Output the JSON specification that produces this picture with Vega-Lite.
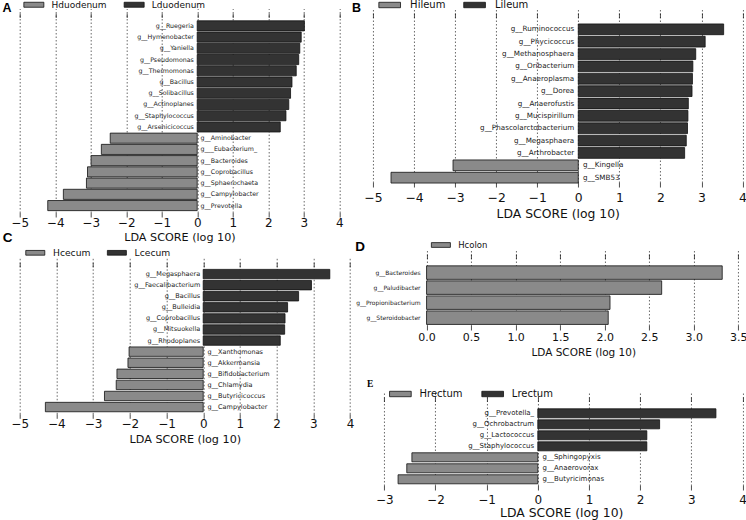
{
  "$schema": "https://vega.github.io/schema/vega-lite/v6.json",
  "padding": {"left": 1.7, "top": 0, "right": 0, "bottom": 0},
  "autosize": {"type": "pad"},
  "background": "white",
  "config": {
    "view": {"stroke": null},
    "font": "DejaVu Sans",
    "axis": {
      "domain": false, "grid": true, "gridDash": [1.5, 2], "gridColor": "#444", "gridWidth": 0.8,
      "ticks": true, "tickSize": 4.5, "tickColor": "#222", "tickWidth": 0.8, "offset": -4.5,
      "labelFont": "DejaVu Sans", "labelFontSize": 12, "labelColor": "#111", "labelBaseline": "middle",
      "labelFlush": false, "labelOverlap": false, "tickCount": 20,
      "titleFont": "DejaVu Sans", "titleFontWeight": "normal", "titleColor": "#111", "titleBaseline": "alphabetic"
    },
    "legend": {
      "orient": "none", "direction": "horizontal", "padding": 0, "title": null,
      "symbolType": "M-4,-1H4V1H-4Z", "symbolStrokeColor": "#111", "symbolStrokeWidth": 0.8,
      "symbolOpacity": 1, "labelFont": "DejaVu Sans", "labelColor": "#111"
    },
    "title": {"frame": "group", "anchor": "start", "baseline": "alphabetic", "color": "#000", "fontWeight": "bold", "font": "Liberation Sans"}
  },
  "datasets": {
    "dA": [
      {"g": "g__Ruegeria", "v": 3.02, "grp": "Lduodenum"},
      {"g": "g__Hymenobacter", "v": 2.93, "grp": "Lduodenum"},
      {"g": "g__Yaniella", "v": 2.89, "grp": "Lduodenum"},
      {"g": "g__Pseudomonas", "v": 2.86, "grp": "Lduodenum"},
      {"g": "g__Thermomonas", "v": 2.79, "grp": "Lduodenum"},
      {"g": "g__Bacillus", "v": 2.67, "grp": "Lduodenum"},
      {"g": "g__Solibacillus", "v": 2.63, "grp": "Lduodenum"},
      {"g": "g__Actinoplanes", "v": 2.58, "grp": "Lduodenum"},
      {"g": "g__Staphylococcus", "v": 2.5, "grp": "Lduodenum"},
      {"g": "g__Arsenicicoccus", "v": 2.34, "grp": "Lduodenum"},
      {"g": "g__Aminobacter", "v": -2.45, "grp": "Hduodenum"},
      {"g": "g___Eubacterium_", "v": -2.7, "grp": "Hduodenum"},
      {"g": "g__Bacteroides", "v": -2.99, "grp": "Hduodenum"},
      {"g": "g__Coprobacillus", "v": -3.09, "grp": "Hduodenum"},
      {"g": "g__Sphaerochaeta", "v": -3.12, "grp": "Hduodenum"},
      {"g": "g__Campylobacter", "v": -3.77, "grp": "Hduodenum"},
      {"g": "g__Prevotella", "v": -4.21, "grp": "Hduodenum"}
    ],
    "dB": [
      {"g": "g__Ruminococcus", "v": 3.54, "grp": "Lileum"},
      {"g": "g__Phycicoccus", "v": 3.09, "grp": "Lileum"},
      {"g": "g__Methanosphaera", "v": 2.86, "grp": "Lileum"},
      {"g": "g__Oribacterium", "v": 2.79, "grp": "Lileum"},
      {"g": "g__Anaeroplasma", "v": 2.78, "grp": "Lileum"},
      {"g": "g__Dorea", "v": 2.77, "grp": "Lileum"},
      {"g": "g__Anaerofustis", "v": 2.68, "grp": "Lileum"},
      {"g": "g__Mucispirillum", "v": 2.67, "grp": "Lileum"},
      {"g": "g__Phascolarctobacterium", "v": 2.66, "grp": "Lileum"},
      {"g": "g__Megasphaera", "v": 2.63, "grp": "Lileum"},
      {"g": "g__Arthrobacter", "v": 2.59, "grp": "Lileum"},
      {"g": "g__Kingella", "v": -3.05, "grp": "Hileum"},
      {"g": "g__SMB53", "v": -4.56, "grp": "Hileum"}
    ],
    "dC": [
      {"g": "g__Megasphaera", "v": 3.45, "grp": "Lcecum"},
      {"g": "g__Faecalibacterium", "v": 2.95, "grp": "Lcecum"},
      {"g": "g__Bacillus", "v": 2.6, "grp": "Lcecum"},
      {"g": "g__Bulleidia", "v": 2.3, "grp": "Lcecum"},
      {"g": "g__Coprobacillus", "v": 2.23, "grp": "Lcecum"},
      {"g": "g__Mitsuokella", "v": 2.22, "grp": "Lcecum"},
      {"g": "g__Rhodoplanes", "v": 2.1, "grp": "Lcecum"},
      {"g": "g__Xanthomonas", "v": -2.02, "grp": "Hcecum"},
      {"g": "g__Akkermansia", "v": -2.05, "grp": "Hcecum"},
      {"g": "g__Bifidobacterium", "v": -2.35, "grp": "Hcecum"},
      {"g": "g__Chlamydia", "v": -2.37, "grp": "Hcecum"},
      {"g": "g__Butyricicoccus", "v": -2.69, "grp": "Hcecum"},
      {"g": "g__Campylobacter", "v": -4.3, "grp": "Hcecum"}
    ],
    "dD": [
      {"g": "g__Bacteroides", "v": 3.32, "grp": "Hcolon"},
      {"g": "g__Paludibacter", "v": 2.64, "grp": "Hcolon"},
      {"g": "g__Propionibacterium", "v": 2.06, "grp": "Hcolon"},
      {"g": "g__Steroidobacter", "v": 2.04, "grp": "Hcolon"}
    ],
    "dE": [
      {"g": "g__Prevotella_", "v": 3.48, "grp": "Lrectum"},
      {"g": "g__Ochrobactrum", "v": 2.38, "grp": "Lrectum"},
      {"g": "g__Lactococcus", "v": 2.13, "grp": "Lrectum"},
      {"g": "g__Staphylococcus", "v": 2.13, "grp": "Lrectum"},
      {"g": "g__Sphingopyxis", "v": -2.46, "grp": "Hrectum"},
      {"g": "g__Anaerovorax", "v": -2.56, "grp": "Hrectum"},
      {"g": "g__Butyricimonas", "v": -2.73, "grp": "Hrectum"}
    ]
  },
  "bounds": "full",
  "spacing": -2.75,
  "resolve": {"scale": {"color": "independent", "x": "independent", "y": "independent"}, "legend": {"color": "independent"}},
  "hconcat": [
    {
      "bounds": "flush",
      "spacing": 45.3,
      "resolve": {"scale": {"color": "independent", "x": "independent", "y": "independent"}, "legend": {"color": "independent"}},
      "vconcat": [
        {
          "width": 319.5, "height": 204,
          "data": {"name": "dA"},
          "title": {"text": "A", "dx": -17.15, "offset": -14, "fontSize": 12.5},
          "resolve": {"axis": {"x": "independent"}},
          "encoding": {
            "y": {"field": "g", "type": "nominal", "sort": null, "axis": null,
                  "scale": {"paddingInner": 0.1, "paddingOuter": 0.63, "align": 0.55}}
          },
          "layer": [
            {
              "mark": {"type": "bar", "stroke": "#111", "strokeWidth": 0.8},
              "encoding": {
                "x": {"field": "v", "type": "quantitative",
                      "scale": {"domain": [-5, 4], "nice": false, "zero": false},
                      "axis": {"values": [-5, -4, -3, -2, -1, 0, 1, 2, 3, 4], "format": "d", "title": "LDA SCORE (log 10)",
                               "labelPadding": 5, "titleY": 28.2, "titleFontSize": 11.2}},
                "x2": {"datum": 0},
                "color": {"field": "grp", "type": "nominal", "title": null,
                          "scale": {"domain": ["Hduodenum", "Lduodenum"], "range": ["#8a8a8a", "#333333"]},
                          "legend": {"legendX": 9.65, "legendY": -13, "symbolSize": 25, "labelFontSize": 9,
                                     "labelOffset": 13.2, "columnPadding": 14.3}}
              }
            },
            {
              "transform": [{"filter": "datum.v > 0"}],
              "mark": {"type": "text", "align": "right", "baseline": "middle", "dx": -3.3, "fontSize": 6.3, "color": "#1a1a1a"},
              "encoding": {
                "x": {"datum": 0, "type": "quantitative",
                      "axis": {"orient": "top", "values": [-5, -4, -3, -2, -1, 0, 1, 2, 3, 4], "labels": false, "grid": false, "title": null}},
                "text": {"field": "g"}
              }
            },
            {
              "transform": [{"filter": "datum.v < 0"}],
              "mark": {"type": "text", "align": "left", "baseline": "middle", "dx": 3.3, "fontSize": 6.3, "color": "#1a1a1a"},
              "encoding": {"x": {"datum": 0, "type": "quantitative", "axis": null}, "text": {"field": "g"}}
            }
          ]
        },
        {
          "width": 330.3, "height": 156,
          "data": {"name": "dC"},
          "title": {"text": "C", "dx": -16.85, "offset": 3.8, "fontSize": 13.5},
          "resolve": {"axis": {"x": "independent"}},
          "encoding": {
            "y": {"field": "g", "type": "nominal", "sort": null, "axis": null,
                  "scale": {"paddingInner": 0.15, "paddingOuter": 0.615, "align": 0.52}}
          },
          "layer": [
            {
              "mark": {"type": "bar", "stroke": "#111", "strokeWidth": 0.8},
              "encoding": {
                "x": {"field": "v", "type": "quantitative",
                      "scale": {"domain": [-5, 4], "nice": false, "zero": false},
                      "axis": {"values": [-5, -4, -3, -2, -1, 0, 1, 2, 3, 4], "format": "d", "title": "LDA SCORE (log 10)",
                               "labelPadding": 5.7, "titleY": 28.6, "titleFontSize": 11.2}},
                "x2": {"datum": 0},
                "color": {"field": "grp", "type": "nominal", "title": null,
                          "scale": {"domain": ["Hcecum", "Lcecum"], "range": ["#8a8a8a", "#333333"]},
                          "legend": {"legendX": 10.98, "legendY": -14.2, "symbolSize": 22.6, "labelFontSize": 9.2,
                                     "labelOffset": 13.1, "columnPadding": 14.6}}
              }
            },
            {
              "transform": [{"filter": "datum.v > 0"}],
              "mark": {"type": "text", "align": "right", "baseline": "middle", "dx": -3, "fontSize": 6.5, "color": "#1a1a1a"},
              "encoding": {
                "x": {"datum": 0, "type": "quantitative",
                      "axis": {"orient": "top", "values": [-5, -4, -3, -2, -1, 0, 1, 2, 3, 4], "labels": false, "grid": false, "title": null}},
                "text": {"field": "g"}
              }
            },
            {
              "transform": [{"filter": "datum.v < 0"}],
              "mark": {"type": "text", "align": "left", "baseline": "middle", "dx": 4.3, "fontSize": 6.5, "color": "#1a1a1a"},
              "encoding": {"x": {"datum": 0, "type": "quantitative", "axis": null}, "text": {"field": "g"}}
            }
          ]
        }
      ]
    },
    {
      "bounds": "flush",
      "spacing": 67,
      "resolve": {"scale": {"color": "independent", "x": "independent", "y": "independent"}, "legend": {"color": "independent"}},
      "vconcat": [
        {
          "width": 369.6, "height": 174,
          "data": {"name": "dB"},
          "title": {"text": "B", "dx": -21, "offset": -14, "fontSize": 12.5},
          "resolve": {"axis": {"x": "independent"}},
          "encoding": {
            "y": {"field": "g", "type": "nominal", "sort": null, "axis": null,
                  "scale": {"paddingInner": 0.13, "paddingOuter": 0.602, "align": 0.735}}
          },
          "layer": [
            {
              "mark": {"type": "bar", "stroke": "#111", "strokeWidth": 0.8},
              "encoding": {
                "x": {"field": "v", "type": "quantitative",
                      "scale": {"domain": [-5, 4], "nice": false, "zero": false},
                      "axis": {"values": [-5, -4, -3, -2, -1, 0, 1, 2, 3, 4], "format": "d", "title": "LDA SCORE (log 10)",
                               "labelPadding": 10.5, "titleY": 35.3, "titleFontSize": 12.4, "labelFontSize": 12.4}},
                "x2": {"datum": 0},
                "color": {"field": "grp", "type": "nominal", "title": null,
                          "scale": {"domain": ["Hileum", "Lileum"], "range": ["#8a8a8a", "#333333"]},
                          "legend": {"legendX": 11.74, "legendY": -13, "symbolSize": 29.4, "labelFontSize": 10,
                                     "labelOffset": 15.44, "columnPadding": 15.9}}
              }
            },
            {
              "transform": [{"filter": "datum.v > 0"}],
              "mark": {"type": "text", "align": "right", "baseline": "middle", "dx": -4, "fontSize": 7.2, "color": "#1a1a1a"},
              "encoding": {
                "x": {"datum": 0, "type": "quantitative",
                      "axis": {"orient": "top", "values": [-5, -4, -3, -2, -1, 0, 1, 2, 3, 4], "labels": false, "grid": false, "title": null}},
                "text": {"field": "g"}
              }
            },
            {
              "transform": [{"filter": "datum.v < 0"}],
              "mark": {"type": "text", "align": "left", "baseline": "middle", "dx": 4.7, "fontSize": 7.2, "color": "#1a1a1a"},
              "encoding": {"x": {"datum": 0, "type": "quantitative", "axis": null}, "text": {"field": "g"}}
            }
          ]
        },
        {
          "width": 369.6, "height": 76,
          "data": {"name": "dD"},
          "title": {"text": "D", "dx": -17.7, "offset": -12.55, "fontSize": 13.5},
          "resolve": {"axis": {"x": "independent"}},
          "encoding": {
            "y": {"field": "g", "type": "nominal", "sort": null, "axis": null,
                  "scale": {"paddingInner": 0.1, "paddingOuter": 0.58, "align": 0.68}}
          },
          "layer": [
            {
              "mark": {"type": "bar", "stroke": "#111", "strokeWidth": 0.8},
              "encoding": {
                "x": {"field": "v", "type": "quantitative",
                      "scale": {"domain": [-0.602, 3.548], "nice": false, "zero": false},
                      "axis": {"values": [0, 0.5, 1, 1.5, 2, 2.5, 3, 3.5], "format": ".1f", "title": "LDA SCORE (log 10)",
                               "labelPadding": 7.3, "titleY": 30, "titleX": 210.3, "titleFontSize": 10.5, "labelFontSize": 11}},
                "x2": {"datum": 0},
                "color": {"field": "grp", "type": "nominal", "title": null,
                          "scale": {"domain": ["Hcolon"], "range": ["#8a8a8a"]},
                          "legend": {"legendX": 63.7, "legendY": -13.25, "symbolSize": 22.6, "labelFontSize": 8.5,
                                     "labelOffset": 13.1, "columnPadding": 15}}
              }
            },
            {
              "mark": {"type": "text", "align": "right", "baseline": "middle", "dx": -6, "fontSize": 6, "color": "#1a1a1a"},
              "encoding": {
                "x": {"datum": 0, "type": "quantitative",
                      "axis": {"orient": "top", "values": [0, 0.5, 1, 1.5, 2, 2.5, 3, 3.5], "labels": false, "grid": false, "title": null}},
                "text": {"field": "g"}
              }
            }
          ]
        },
        {
          "width": 369.6, "height": 93,
          "data": {"name": "dE"},
          "title": {"text": "E", "dx": -6, "offset": 0.7, "fontSize": 9.5, "font": "Liberation Serif"},
          "resolve": {"axis": {"x": "independent"}},
          "encoding": {
            "y": {"field": "g", "type": "nominal", "sort": null, "axis": null,
                  "scale": {"paddingInner": 0.18, "paddingOuter": 0.818, "align": 0.656}}
          },
          "layer": [
            {
              "mark": {"type": "bar", "stroke": "#111", "strokeWidth": 0.8},
              "encoding": {
                "x": {"field": "v", "type": "quantitative",
                      "scale": {"domain": [-3.221, 4], "nice": false, "zero": false},
                      "axis": {"values": [-3, -2, -1, 0, 1, 2, 3, 4], "format": "d", "title": "LDA SCORE (log 10)",
                               "labelPadding": 9.3, "titleY": 31.3, "titleX": 188.3, "titleFontSize": 12.4, "labelFontSize": 12}},
                "x2": {"datum": 0},
                "color": {"field": "grp", "type": "nominal", "title": null,
                          "scale": {"domain": ["Hrectum", "Lrectum"], "range": ["#8a8a8a", "#333333"]},
                          "legend": {"legendX": 22.44, "legendY": -8, "symbolSize": 29.4, "labelFontSize": 10,
                                     "labelOffset": 14.14, "columnPadding": 16.3}}
              }
            },
            {
              "transform": [{"filter": "datum.v > 0"}],
              "mark": {"type": "text", "align": "right", "baseline": "middle", "dx": -3.7, "fontSize": 7, "color": "#1a1a1a"},
              "encoding": {
                "x": {"datum": 0, "type": "quantitative",
                      "axis": {"orient": "top", "values": [-3, -2, -1, 0, 1, 2, 3, 4], "labels": false, "grid": false, "title": null}},
                "text": {"field": "g"}
              }
            },
            {
              "transform": [{"filter": "datum.v < 0"}],
              "mark": {"type": "text", "align": "left", "baseline": "middle", "dx": 4.7, "fontSize": 7, "color": "#1a1a1a"},
              "encoding": {"x": {"datum": 0, "type": "quantitative", "axis": null}, "text": {"field": "g"}}
            }
          ]
        }
      ]
    }
  ]
}
